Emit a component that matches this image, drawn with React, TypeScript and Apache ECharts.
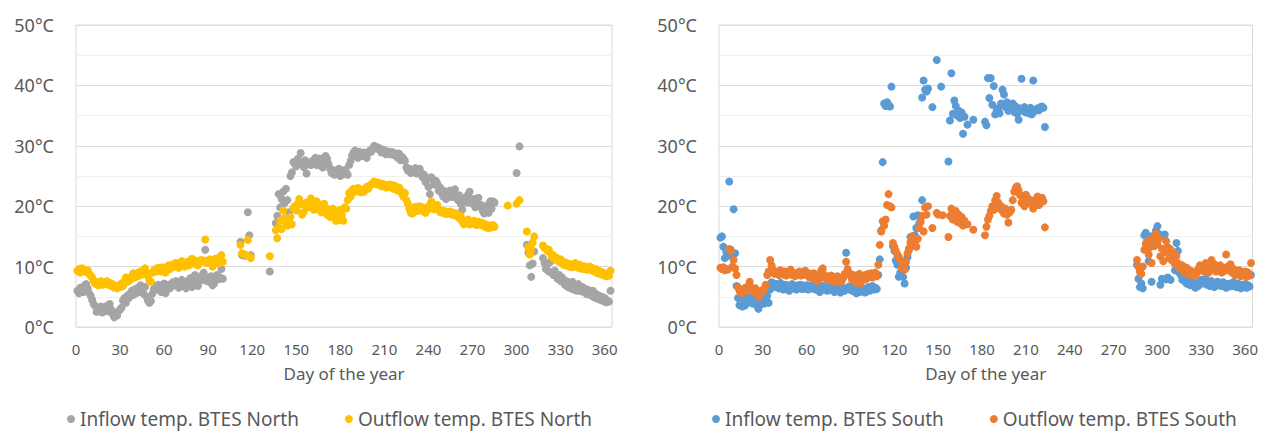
import React, { useEffect, useRef } from "react";
import * as echarts from "echarts";

const xTicks = [0, 30, 60, 90, 120, 150, 180, 210, 240, 270, 300, 330, 360];
const yTicks = [0, 10, 20, 30, 40, 50];

const northInflow: number[][] = [
  [1,6.0],[2,5.6],[3,6.5],[4,6.3],[5,5.8],[6,6.9],[7,7.1],[8,6.4],[9,5.6],[10,5.2],
  [11,4.5],[12,3.8],[13,3.5],[14,2.5],[15,3.0],[16,2.6],[17,3.4],[18,2.4],[19,3.2],[20,2.8],
  [21,3.5],[22,2.6],[23,3.8],[24,2.9],[25,2.1],[26,1.6],[27,2.2],[28,1.9],[29,2.6],[30,2.9],
  [31,3.2],[32,4.4],[33,4.8],[34,4.0],[35,5.2],[36,4.8],[37,5.6],[38,6.0],[39,5.3],[40,6.2],
  [41,5.6],[42,6.5],[43,5.8],[44,6.9],[45,6.2],[46,5.5],[47,6.6],[48,5.0],[49,4.4],[50,4.0],
  [51,4.3],[52,5.5],[53,6.3],[54,6.8],[55,6.2],[56,7.0],[57,6.5],[58,5.8],[59,6.9],[60,7.2],
  [61,5.6],[62,6.6],[63,7.0],[64,6.4],[65,6.8],[66,7.4],[67,6.9],[68,7.6],[69,7.0],[70,6.5],
  [71,7.3],[72,7.8],[73,6.8],[74,7.5],[75,6.4],[76,7.1],[77,7.8],[78,8.1],[79,6.6],[80,7.2],
  [81,8.6],[82,7.4],[83,6.8],[84,8.0],[85,7.7],[86,8.6],[87,9.0],[88,12.8],[89,7.6],[90,8.2],
  [91,7.5],[92,8.4],[93,6.9],[94,7.2],[95,8.3],[96,8.6],[97,7.9],[98,8.2],[99,9.6],[100,8.0],
  [112,14.1],[113,11.9],[115,11.8],[117,19.0],[118,15.2],[119,11.9],
  [132,9.2],
  [136,17.2],[137,18.4],[138,22.0],[139,19.8],[140,21.2],[141,22.4],[142,20.5],[143,22.9],[144,21.0],[145,19.0],[146,25.0],[147,25.6],
  [148,27.3],[149,27.0],[150,26.6],[151,27.8],[152,27.4],[153,28.8],[154,27.0],[155,26.5],[156,27.6],[157,25.4],[158,26.9],[159,27.2],
  [160,26.8],[161,27.5],[162,27.2],[163,28.0],[164,26.8],[165,27.4],[166,27.9],[167,27.0],[168,26.4],[169,27.6],[170,28.3],
  [171,27.8],[172,27.0],[173,26.2],[174,25.5],[175,26.0],[176,25.2],[177,25.8],[178,25.4],[179,26.2],[180,25.0],[181,25.6],
  [182,25.3],[183,26.0],[184,25.6],[185,25.2],[186,26.8],
  [187,27.5],[188,28.4],[189,28.9],[190,29.2],[191,28.6],[192,28.0],[193,29.0],[194,28.7],[195,28.3],[196,28.9],[197,28.5],
  [198,28.0],[199,28.8],[200,29.2],[201,29.0],[202,29.5],
  [203,30.0],[204,29.8],[205,29.5],[206,29.7],[207,29.3],[208,28.9],[209,29.4],[210,29.0],[211,28.6],[212,29.1],[213,28.8],
  [214,28.6],[215,29.0],[216,28.5],[217,28.8],[218,28.3],[219,28.0],[220,28.7],[221,27.6],[222,28.2],[223,27.9],[224,27.5],
  [225,26.4],[226,25.9],[227,26.2],[228,25.5],[229,26.0],[230,25.7],[231,26.3],[232,25.4],[233,25.9],[234,26.2],[235,25.6],
  [236,24.8],[237,25.2],[238,24.0],[239,24.6],[240,23.2],
  [241,22.0],[242,24.8],[243,24.4],[244,23.6],[245,24.2],[246,23.8],[247,22.6],[248,23.1],[249,22.2],[250,21.6],
  [251,22.5],[252,21.2],[253,22.4],[254,21.8],[255,22.6],[256,21.5],[257,22.0],[258,22.8],[259,21.6],[260,21.0],
  [261,21.8],[262,20.4],[263,19.4],[264,20.8],[265,21.4],[266,20.6],[267,21.9],[268,22.4],[269,21.0],[270,20.4],
  [271,21.2],[272,19.8],[273,20.6],[274,21.4],[275,20.0],[276,20.2],[277,19.2],[278,18.8],[279,19.4],[280,20.1],
  [281,18.9],[282,20.8],[283,19.6],[284,20.8],[285,20.6],
  [300,25.5],[302,29.9],[307,13.6],[308,12.3],[309,10.2],[310,8.3],[311,10.5],[312,12.5],
  [318,11.4],[319,10.6],[320,9.6],[321,10.4],[322,9.2],[323,10.8],[324,9.0],[325,8.6],[326,9.3],[327,8.4],[328,8.0],
  [329,8.6],[330,7.6],[331,8.2],[332,7.4],[333,7.0],[334,7.6],[335,6.6],[336,7.2],[337,6.4],[338,7.5],[339,6.2],
  [340,6.9],[341,6.0],[342,7.1],[343,6.4],[344,5.9],[345,6.6],[346,5.8],[347,6.3],[348,5.4],[349,6.1],[350,5.6],
  [351,5.2],[352,6.0],[353,4.9],[354,5.5],[355,4.7],[356,5.2],[357,4.5],[358,5.0],[359,4.3],[360,4.8],[361,4.1],
  [362,4.4],[363,4.2],[364,6.0]
];

const northOutflow: number[][] = [
  [1,9.3],[2,9.6],[3,9.0],[4,9.7],[5,9.4],[6,9.5],[7,9.1],[8,9.4],[9,8.8],[10,8.5],
  [11,8.2],[12,7.6],[13,7.2],[14,7.5],[15,6.9],[16,7.3],[17,7.6],[18,7.0],[19,7.4],[20,7.2],
  [21,7.6],[22,7.0],[23,7.3],[24,6.8],[25,7.1],[26,6.5],[27,6.7],[28,6.4],[29,6.9],[30,6.6],
  [31,7.2],[32,6.8],[33,7.6],[34,8.2],[35,7.5],[36,8.0],[37,7.8],[38,8.4],[39,8.9],[40,8.2],
  [41,8.8],[42,8.4],[43,9.1],[44,8.6],[45,9.3],[46,8.8],[47,9.7],[48,9.0],[49,8.4],[50,7.6],
  [51,7.5],[52,9.0],[53,9.3],[54,9.6],[55,9.2],[56,9.8],[57,9.5],[58,9.2],[59,9.9],[60,9.6],
  [61,9.0],[62,9.8],[63,10.2],[64,9.6],[65,9.9],[66,10.4],[67,10.0],[68,10.6],[69,10.2],[70,9.8],
  [71,10.5],[72,10.9],[73,10.3],[74,10.0],[75,10.6],[76,10.8],[77,10.2],[78,10.9],[79,11.3],[80,10.5],
  [81,11.0],[82,10.6],[83,10.2],[84,10.8],[85,11.1],[86,10.9],[87,11.0],[88,14.5],[89,10.6],[90,11.0],
  [91,11.2],[92,10.8],[93,10.0],[94,10.6],[95,11.3],[96,11.0],[97,10.5],[98,11.6],[99,11.9],[100,10.8],
  [112,13.6],[113,12.2],[115,12.0],[117,14.4],[118,11.7],[119,11.4],
  [132,11.7],
  [136,16.0],[137,14.7],[138,16.5],[139,17.6],[140,16.2],[141,19.3],[142,18.0],[143,17.2],[144,16.8],[145,17.6],[146,18.2],[147,17.0],
  [148,19.7],[149,20.0],[150,19.3],[151,20.4],[152,21.2],[153,20.3],[154,18.6],[155,19.0],[156,20.2],[157,20.6],[158,19.8],
  [159,20.8],[160,21.3],[161,20.5],[162,19.4],[163,20.0],[164,20.8],[165,19.5],[166,20.2],[167,19.0],[168,19.8],[169,20.4],
  [170,19.2],[171,18.6],[172,19.5],[173,18.2],[174,19.0],[175,19.6],[176,18.4],[177,17.6],[178,18.8],[179,17.7],[180,19.4],
  [181,18.5],[182,17.6],[183,19.8],[184,19.6],
  [185,21.0],[186,22.2],[187,21.6],[188,22.6],[189,22.9],[190,22.4],[191,22.8],[192,23.0],[193,22.5],[194,22.3],[195,22.7],
  [196,22.4],[197,22.8],[198,23.2],[199,22.9],[200,23.4],[201,23.6],[202,23.8],
  [203,24.1],[204,23.8],[205,23.6],[206,23.9],[207,23.5],[208,23.3],[209,23.7],[210,23.4],[211,23.1],[212,23.5],[213,23.2],
  [214,23.6],[215,23.3],[216,22.9],[217,23.4],[218,23.0],[219,22.6],[220,23.1],[221,22.7],[222,22.0],[223,21.6],[224,22.2],[225,21.0],
  [226,20.4],[227,19.6],[228,18.9],[229,18.8],[230,19.6],[231,19.9],[232,19.2],[233,19.5],[234,20.0],[235,19.3],
  [236,19.8],[237,19.4],[238,18.9],[239,19.5],[240,20.0],[241,19.6],[242,20.8],[243,20.0],[244,19.5],[245,19.8],
  [246,20.2],[247,19.4],[248,19.0],[249,19.3],[250,18.9],[251,19.2],[252,18.7],[253,19.0],[254,18.8],[255,19.1],
  [256,18.6],[257,18.9],[258,18.5],[259,18.8],[260,18.3],[261,18.0],[262,18.4],
  [263,17.5],[264,17.0],[265,17.6],[266,17.2],[267,17.8],[268,17.0],[269,17.4],[270,17.1],[271,17.6],[272,17.2],
  [273,16.9],[274,17.4],[275,17.0],[276,17.3],[277,16.8],[278,17.1],[279,16.5],[280,16.9],[281,16.4],[282,16.7],
  [283,16.5],[284,16.9],[285,16.6],
  [294,20.1],[300,20.4],[302,21.0],[307,15.8],[308,13.2],[309,12.0],[310,13.0],[311,14.0],[312,15.0],
  [318,13.5],[319,13.1],[320,12.9],[321,12.6],[322,12.8],[323,12.2],[324,11.6],[325,11.9],[326,11.2],[327,11.5],
  [328,11.0],[329,10.8],[330,11.2],[331,10.6],[332,10.3],[333,10.7],[334,10.2],[335,10.5],[336,10.0],[337,10.4],
  [338,9.9],[339,10.3],[340,10.6],[341,10.0],[342,9.8],[343,10.3],[344,9.7],[345,10.1],[346,9.6],[347,10.0],
  [348,9.5],[349,9.8],[350,10.0],[351,9.4],[352,9.7],[353,9.2],[354,9.6],[355,8.9],[356,9.3],[357,8.8],
  [358,9.1],[359,8.6],[360,8.9],[361,8.4],[362,8.8],[363,8.5],[364,9.3]
];

const southInflow: number[][] = [
  [1,14.8],[2,15.0],[3,13.3],[4,11.4],[5,12.4],[6,11.8],[7,24.1],[8,12.8],[9,12.0],[10,19.5],[11,12.2],
  [12,6.8],[13,4.8],[14,3.6],[15,5.0],[16,3.4],[17,4.6],[18,3.6],[19,4.4],[20,5.0],[21,4.2],[22,4.8],[23,3.9],
  [24,4.6],[25,4.0],[26,3.5],[27,3.0],[28,4.2],[29,3.8],[30,4.6],[31,3.9],[32,4.4],[33,5.2],[34,4.0],
  [35,6.2],[36,7.4],[37,6.8],[38,7.2],[39,6.6],[40,7.0],[41,6.4],[42,7.3],[43,6.7],[44,6.2],[45,7.0],[46,6.5],
  [47,6.9],[48,6.0],[49,6.6],[50,7.1],[51,6.4],[52,6.8],[53,6.2],[54,6.9],[55,6.5],[56,7.0],[57,6.3],[58,6.7],
  [59,6.4],[60,6.9],[61,6.2],[62,6.8],[63,6.5],[64,7.0],[65,6.3],[66,6.7],[67,6.1],[68,6.6],[69,5.8],[70,6.4],
  [71,6.8],[72,6.2],[73,6.6],[74,6.0],[75,6.5],[76,6.1],[77,6.7],[78,6.3],[79,5.8],[80,6.4],[81,6.0],[82,6.6],
  [83,5.7],[84,6.2],[85,6.5],[86,6.0],[87,12.3],[88,6.3],[89,6.7],[90,6.1],[91,6.4],[92,5.9],[93,6.5],[94,5.6],
  [95,6.2],[96,5.8],[97,6.4],[98,5.9],[99,6.3],[100,5.7],[101,6.2],[102,6.6],[103,6.0],[104,6.4],[105,6.8],
  [106,6.2],[107,6.5],[108,6.3],
  [109,8.6],[110,11.2],[111,16.0],[112,27.3],[113,37.0],[114,36.6],[115,37.2],[116,36.8],[117,36.5],[118,39.8],
  [119,13.4],[120,12.6],[121,11.0],[122,10.3],[123,8.3],[124,9.0],[125,8.6],[126,8.3],[127,7.2],[128,9.8],
  [129,11.6],[130,12.8],[131,14.9],[132,13.6],[133,18.3],[134,15.2],[135,16.4],[136,18.5],[137,17.2],[138,18.0],[139,21.0],
  [139,38.0],[140,40.8],[141,39.3],[142,39.0],[143,39.5],[146,36.4],[149,44.2],[152,39.8],[157,27.4],[158,34.2],
  [159,42.0],[160,35.3],[161,37.5],[162,36.6],[163,35.0],[164,35.8],[165,34.6],[166,35.5],[167,32.0],[168,34.8],
  [170,33.5],[174,34.3],[182,34.0],[183,33.4],[184,41.2],[185,37.9],[186,41.2],[187,36.8],[188,39.9],[189,35.2],
  [190,35.8],[191,36.2],[192,35.4],[193,37.0],[194,39.3],[195,38.5],[196,36.4],[197,37.2],[198,35.8],[199,36.8],
  [200,36.2],[201,37.0],[202,35.6],[203,36.5],[204,35.3],[205,34.3],[206,36.2],[207,41.1],[208,35.8],[209,36.4],
  [210,35.5],[211,36.0],[212,35.4],[213,36.3],[214,35.2],[215,40.8],[216,35.7],[217,36.0],[218,36.2],[219,35.9],
  [220,36.4],[221,36.5],[222,36.3],[223,33.1],
  [286,10.3],[287,8.0],[288,6.6],[289,7.2],[290,6.4],[291,15.2],[292,15.6],[293,14.8],[294,10.9],[295,15.0],
  [296,7.5],[297,13.6],[298,15.2],[299,16.0],[300,16.7],[301,15.4],[302,7.0],[303,8.0],[304,15.0],[305,15.3],
  [306,7.9],[307,8.2],[308,13.0],[309,7.8],[310,12.0],[311,11.0],[312,9.4],[313,13.9],[314,12.6],[315,9.0],
  [316,8.6],[317,7.8],[318,8.2],[319,7.5],[320,7.2],[321,7.6],[322,7.0],[323,6.9],[324,7.4],[325,7.0],
  [326,6.5],[327,7.2],[328,6.8],[329,7.5],[330,7.8],[331,7.2],[332,7.6],[333,8.0],[334,7.0],[335,7.4],
  [336,6.8],[337,7.6],[338,7.2],[339,6.6],[340,7.0],[341,7.5],[342,6.9],[343,7.3],[344,6.8],[345,7.4],
  [346,6.9],[347,6.5],[348,7.1],[349,6.7],[350,7.2],[351,6.8],[352,7.4],[353,6.9],[354,6.6],[355,7.2],
  [356,6.8],[357,6.4],[358,7.0],[359,6.6],[360,7.1],[361,6.5],[362,6.9],[363,6.7],[364,8.6]
];

const southOutflow: number[][] = [
  [1,9.8],[2,9.6],[3,9.9],[4,9.4],[5,9.6],[6,9.5],[7,12.9],[8,12.6],[9,10.0],[10,11.1],[11,9.7],[12,8.6],
  [13,6.6],[14,6.0],[15,5.6],[16,6.2],[17,5.8],[18,6.5],[19,6.0],[20,6.8],[21,7.5],[22,6.6],[23,6.2],[24,5.8],
  [25,6.4],[26,5.6],[27,5.0],[28,5.6],[29,6.0],[30,5.8],[31,6.4],[32,7.0],[33,8.6],[34,9.2],
  [35,11.1],[36,10.2],[37,9.4],[38,8.8],[39,9.2],[40,9.0],[41,8.6],[42,9.4],[43,9.0],[44,8.7],[45,9.2],
  [46,8.5],[47,9.1],[48,8.8],[49,9.5],[50,8.6],[51,9.0],[52,8.4],[53,8.9],[54,8.6],[55,9.2],[56,8.5],
  [57,9.0],[58,8.7],[59,9.3],[60,8.6],[61,8.9],[62,8.2],[63,8.8],[64,8.4],[65,8.9],[66,8.0],[67,7.6],
  [68,8.5],[69,8.0],[70,9.4],[71,9.7],[72,8.6],[73,8.2],[74,7.8],[75,8.4],[76,7.9],[77,8.5],[78,7.6],
  [79,8.2],[80,7.8],[81,8.4],[82,7.4],[83,8.0],[84,7.6],[85,8.2],[86,8.8],[87,10.8],[88,9.6],[89,9.0],
  [90,8.4],[91,7.8],[92,8.6],[93,7.4],[94,8.2],[95,7.6],[96,8.8],[97,7.2],[98,8.4],[99,7.8],[100,8.6],
  [101,8.0],[102,8.8],[103,8.4],[104,8.9],[105,8.2],[106,8.6],[107,9.0],[108,8.4],
  [109,10.3],[110,13.6],[111,15.8],[112,17.5],[113,16.8],[114,17.8],[115,20.2],[116,22.0],[117,20.0],[118,19.8],
  [119,13.9],[120,13.3],[121,12.6],[122,12.0],[123,11.6],[124,11.2],[125,9.9],[126,10.4],[127,9.5],[128,10.8],
  [129,12.2],[130,13.0],[131,14.0],[132,15.0],[133,14.4],[134,13.8],[135,13.3],[136,14.6],[137,16.4],[138,17.4],
  [139,18.4],[140,15.8],[141,19.8],[142,18.6],[143,20.0],[146,16.4],[149,18.9],[150,18.6],[153,18.5],[157,14.9],
  [158,18.4],[159,19.6],[160,17.8],[161,18.9],[162,19.2],[163,17.4],[164,18.6],[165,17.2],[166,18.2],[167,16.8],
  [168,17.6],[170,17.0],[174,16.1],[182,15.2],[183,16.6],[184,17.8],[185,18.4],[186,19.2],[187,20.0],[188,19.4],
  [189,21.0],[190,21.7],[191,20.6],[192,19.6],[193,20.0],[194,19.2],[195,18.8],[196,19.6],[197,18.6],[198,17.3],
  [199,19.0],[200,19.4],[201,21.0],[202,22.4],[203,23.0],[204,23.3],[205,22.6],[206,21.8],[207,20.6],[208,21.4],
  [209,20.0],[210,21.9],[211,20.8],[212,21.2],[213,20.4],[214,20.9],[215,19.6],[216,21.0],[217,20.6],[218,21.6],
  [219,20.2],[220,21.0],[221,21.4],[222,20.8],[223,16.5],
  [286,11.1],[287,10.0],[288,9.2],[289,8.8],[290,10.0],[291,12.8],[292,13.8],[293,14.2],[294,12.0],[295,13.2],
  [296,10.6],[297,14.8],[298,13.4],[299,15.5],[300,14.0],[301,14.7],[302,11.7],[303,13.0],[304,10.9],[305,12.4],
  [306,14.2],[307,13.2],[308,11.4],[309,12.8],[310,11.0],[311,12.2],[312,10.4],[313,11.8],[314,10.6],[315,10.0],
  [316,9.6],[317,10.2],[318,9.4],[319,9.0],[320,9.8],[321,8.8],[322,9.4],[323,8.6],[324,9.2],[325,8.8],
  [326,8.5],[327,9.0],[328,9.6],[329,10.2],[330,9.4],[331,10.0],[332,9.2],[333,10.6],[334,9.8],[335,9.0],
  [336,10.2],[337,11.1],[338,9.6],[339,10.4],[340,9.2],[341,10.0],[342,9.4],[343,10.2],[344,9.0],[345,9.8],
  [346,9.3],[347,12.0],[348,10.0],[349,9.4],[350,10.4],[351,9.0],[352,9.6],[353,8.6],[354,9.2],[355,8.8],
  [356,9.4],[357,8.4],[358,9.0],[359,8.6],[360,9.2],[361,8.3],[362,9.0],[363,8.5],[364,10.6]
];

const seriesNames = [
  "Inflow temp. BTES North",
  "Outflow temp. BTES North",
  "Inflow temp. BTES South",
  "Outflow temp. BTES South",
];
const seriesColors = ["#A5A5A5", "#FFC000", "#5B9BD5", "#ED7D31"];
const xAxisTitle = "Day of the year";

const FONT = "'Noto Sans', sans-serif";
const TEXT = "#595959";

export default function App() {
  const ref = useRef<HTMLDivElement>(null);
  useEffect(() => {
    if (!ref.current) return;
    const chart = echarts.init(ref.current, null, { renderer: "svg" });
    const xAxisBase = (gridIndex: number) => ({
      type: "value",
      gridIndex,
      min: xTicks[0],
      max: 365,
      interval: xTicks[1] - xTicks[0],
      name: xAxisTitle,
      nameLocation: "middle",
      nameGap: 38,
      nameTextStyle: { color: TEXT, fontSize: 17, fontFamily: FONT },
      axisLine: { show: false },
      axisTick: { show: false },
      splitLine: { show: false },
      axisLabel: {
        color: TEXT,
        fontSize: 15,
        fontFamily: FONT,
        margin: 14,
        showMaxLabel: false,
        formatter: (v: number) => (xTicks.includes(v) ? String(v) : ""),
      },
    });
    const yAxisBase = (gridIndex: number) => ({
      type: "value",
      gridIndex,
      min: yTicks[0],
      max: yTicks[yTicks.length - 1],
      interval: yTicks[1] - yTicks[0],
      axisLine: { show: false },
      axisTick: { show: false },
      axisLabel: {
        color: TEXT,
        fontSize: 18,
        fontFamily: FONT,
        margin: 22,
        formatter: (v: number) => `${v}°C`,
      },
      splitLine: { show: true, lineStyle: { color: "#DDDDDD", width: 1 } },
      minorTick: { show: false, splitNumber: 2 },
      minorSplitLine: { show: true, lineStyle: { color: "#F0F0F0", width: 1 } },
    });
    const mk = (idx: number, data: number[][], axis: number) => ({
      type: "scatter",
      name: seriesNames[idx],
      xAxisIndex: axis,
      yAxisIndex: axis,
      data,
      symbol: "circle",
      symbolSize: 8,
      itemStyle: { color: seriesColors[idx], opacity: 1 },
    });
    const legendBase = {
      icon: "circle",
      itemWidth: 8,
      itemHeight: 8,
      itemGap: 46,
      top: 404,
      textStyle: { color: TEXT, fontSize: 19, lineHeight: 20, fontFamily: FONT },
    };
    chart.setOption({
      animation: false,
      backgroundColor: "#ffffff",
      grid: [
        { left: 76, top: 25, width: 536, height: 302, show: true, borderColor: "#D9D9D9", borderWidth: 1, backgroundColor: "transparent" },
        { left: 719, top: 25, width: 535, height: 302, show: true, borderColor: "#D9D9D9", borderWidth: 1, backgroundColor: "transparent" },
      ],
      xAxis: [xAxisBase(0), xAxisBase(1)],
      yAxis: [yAxisBase(0), yAxisBase(1)],
      legend: [
        { ...legendBase, left: 62, data: [seriesNames[0], seriesNames[1]] },
        { ...legendBase, left: 707, data: [seriesNames[2], seriesNames[3]] },
      ],
      series: [
        mk(0, northInflow, 0),
        mk(1, northOutflow, 0),
        mk(2, southInflow, 1),
        mk(3, southOutflow, 1),
      ],
    });
    return () => chart.dispose();
  }, []);
  return (
    <div
      ref={ref}
      style={{ position: "absolute", left: 0, top: 0, width: 1261, height: 432, background: "#fff" }}
    />
  );
}
